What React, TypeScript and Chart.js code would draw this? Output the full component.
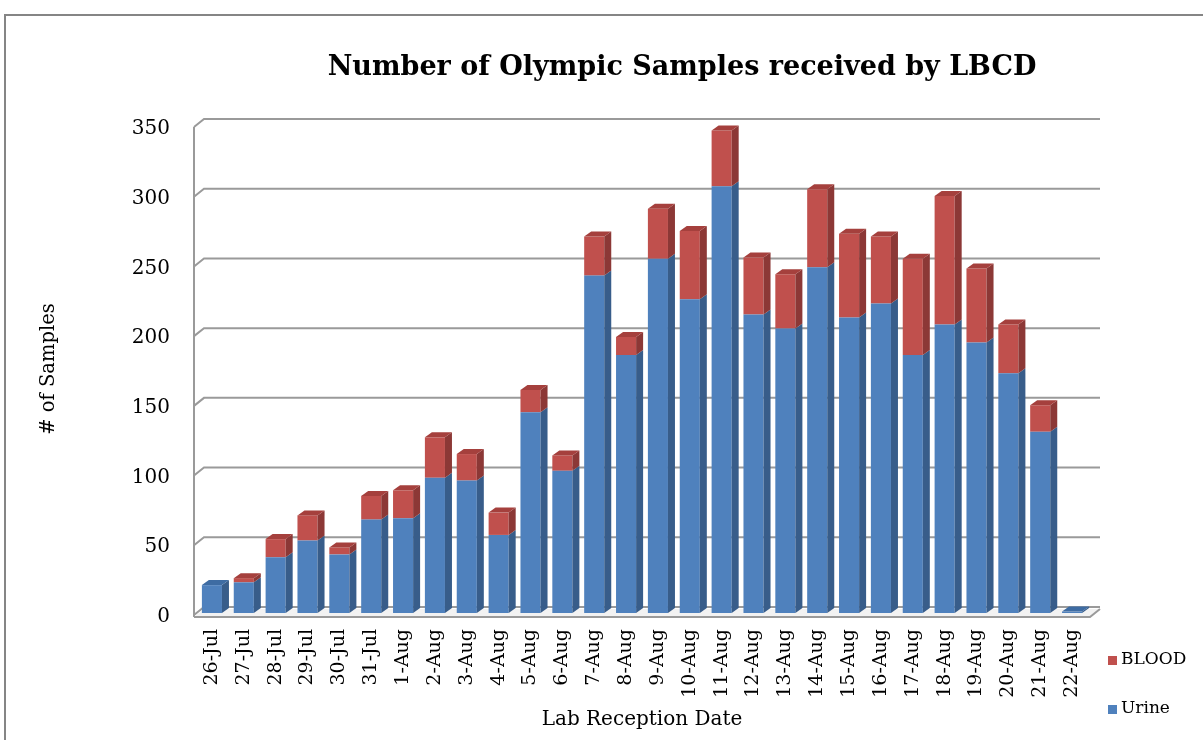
import React, { useEffect, useRef } from "react";
import { Chart, registerables } from "chart.js";

Chart.register(...registerables);

const chartTitle = "Number of Olympic Samples received by LBCD";
const xAxisTitle = "Lab Reception Date";
const yAxisTitle = "# of Samples";

const dates = [
  "26-Jul", "27-Jul", "28-Jul", "29-Jul", "30-Jul", "31-Jul",
  "1-Aug", "2-Aug", "3-Aug", "4-Aug", "5-Aug", "6-Aug", "7-Aug", "8-Aug",
  "9-Aug", "10-Aug", "11-Aug", "12-Aug", "13-Aug", "14-Aug", "15-Aug",
  "16-Aug", "17-Aug", "18-Aug", "19-Aug", "20-Aug", "21-Aug", "22-Aug",
];

const urine = [
  20, 22, 40, 52, 42, 67, 68, 97, 95, 56, 144, 102, 242, 185,
  254, 225, 306, 214, 204, 248, 212, 222, 185, 207, 194, 172, 130, 1,
];

const blood = [
  0, 3, 13, 18, 5, 17, 20, 29, 19, 16, 16, 11, 28, 13,
  36, 49, 40, 41, 39, 56, 60, 48, 69, 92, 53, 35, 19, 0,
];

const yMin = 0;
const yMax = 350;
const yStep = 50;

const FONT = "'DejaVu Serif', serif";

const BLUE = "#4F81BD";
const BLUE_SIDE = "#385D8A";
const BLUE_TOP = "#3E6CA3";
const RED = "#C0504D";
const RED_SIDE = "#8C3836";
const RED_TOP = "#A5403D";

const DX = 7;
const DY = 5;
const WX = 10;
const WY = 6;

const framePlugin = {
  id: "frame",
  beforeDraw(chart: any) {
    const { ctx } = chart;
    ctx.save();
    ctx.strokeStyle = "#858585";
    ctx.lineWidth = 2;
    ctx.beginPath();
    ctx.moveTo(5, 740);
    ctx.lineTo(5, 15);
    ctx.lineTo(1203, 15);
    ctx.stroke();
    ctx.fillStyle = "#000";
    ctx.font = `bold 27px ${FONT}`;
    ctx.textAlign = "center";
    ctx.textBaseline = "middle";
    ctx.fillText(chartTitle, 682, 68);
    ctx.restore();
  },
};

const wallPlugin = {
  id: "walls",
  beforeDatasetsDraw(chart: any) {
    const { ctx, chartArea, scales } = chart;
    const { left, right, top, bottom } = chartArea;
    const y = scales.y;
    ctx.save();
    ctx.strokeStyle = "#9a9a9a";
    ctx.lineWidth = 2;
    // floor slab
    ctx.fillStyle = "#f2f2f2";
    ctx.beginPath();
    ctx.moveTo(left - 2, bottom + 4);
    ctx.lineTo(right + 2, bottom + 4);
    ctx.lineTo(right + 2 + WX, bottom + 4 - WY - 2);
    ctx.lineTo(left - 2 + WX, bottom + 4 - WY - 2);
    ctx.closePath();
    ctx.fill();
    ctx.beginPath();
    ctx.moveTo(left - 2, bottom + 4);
    ctx.lineTo(right + 2, bottom + 4);
    ctx.lineTo(right + 2 + WX, bottom + 4 - WY - 2);
    ctx.stroke();
    // left wall
    ctx.beginPath();
    ctx.moveTo(left - 2, bottom + 4);
    ctx.lineTo(left - 2, top + 2);
    ctx.stroke();
    for (const t of y.ticks) {
      const py = y.getPixelForValue(t.value);
      ctx.beginPath();
      ctx.moveTo(left - 2, py + 2);
      ctx.lineTo(left - 2 + WX, py + 2 - WY - 2);
      ctx.lineTo(right + 2 + WX, py + 2 - WY - 2);
      ctx.stroke();
    }
    ctx.restore();
  },
  afterDatasetsDraw(chart: any) {
    const { ctx } = chart;
    const m0 = chart.getDatasetMeta(0);
    const m1 = chart.getDatasetMeta(1);
    ctx.save();
    const n = m0.data.length;
    for (let i = 0; i < n; i++) {
      const segs = [
        { el: m0.data[i], v: urine[i], side: BLUE_SIDE, topc: BLUE_TOP },
        { el: m1.data[i], v: blood[i], side: RED_SIDE, topc: RED_TOP },
      ];
      let topSeg: any = null;
      for (const s of segs) {
        const { x, y, base, width } = s.el.getProps(["x", "y", "base", "width"], true);
        if (s.v <= 0 && s !== segs[0]) continue;
        const xr = x + width / 2;
        ctx.fillStyle = s.side;
        ctx.beginPath();
        ctx.moveTo(xr, y);
        ctx.lineTo(xr + DX, y - DY);
        ctx.lineTo(xr + DX, base - DY);
        ctx.lineTo(xr, base);
        ctx.closePath();
        ctx.fill();
        topSeg = { x, y, width, c: s.topc };
      }
      if (topSeg) {
        const xl = topSeg.x - topSeg.width / 2;
        const xr = topSeg.x + topSeg.width / 2;
        ctx.fillStyle = topSeg.c;
        ctx.beginPath();
        ctx.moveTo(xl, topSeg.y);
        ctx.lineTo(xl + DX, topSeg.y - DY);
        ctx.lineTo(xr + DX, topSeg.y - DY);
        ctx.lineTo(xr, topSeg.y);
        ctx.closePath();
        ctx.fill();
      }
    }
    ctx.restore();
  },
  afterDraw(chart: any) {
    const { ctx } = chart;
    ctx.save();
    ctx.font = `17px ${FONT}`;
    ctx.textBaseline = "middle";
    ctx.textAlign = "left";
    const items = [
      { label: "BLOOD", c: RED, y: 660 },
      { label: "Urine", c: BLUE, y: 709 },
    ];
    for (const it of items) {
      ctx.fillStyle = it.c;
      ctx.fillRect(1108, it.y - 4, 9, 9);
      ctx.fillStyle = "#000";
      ctx.fillText(it.label, 1121, it.y);
    }
    ctx.restore();
  },
};

export default function App() {
  const ref = useRef<HTMLCanvasElement | null>(null);
  useEffect(() => {
    if (!ref.current) return;
    const chart = new Chart(ref.current, {
      type: "bar",
      data: {
        labels: dates,
        datasets: [
          { label: "Urine", data: urine, backgroundColor: BLUE, stack: "s" },
          { label: "BLOOD", data: blood, backgroundColor: RED, stack: "s" },
        ],
      },
      options: {
        responsive: false,
        animation: false,
        events: [],
        layout: { padding: { left: 29, right: 115, top: 125, bottom: 0 } },
        datasets: { bar: { barPercentage: 0.63, categoryPercentage: 1 } },
        plugins: {
          legend: { display: false },
          title: { display: false },
          tooltip: { enabled: false },
        },
        scales: {
          x: {
            stacked: true,
            grid: { display: false, drawTicks: false },
            border: { display: false },
            ticks: {
              autoSkip: false,
              minRotation: 90,
              maxRotation: 90,
              padding: 16,
              color: "#000",
              font: { family: FONT, size: 19 },
            },
            title: {
              display: true,
              text: xAxisTitle,
              color: "#000",
              font: { family: FONT, size: 20 },
              padding: { top: 0, bottom: 8 },
            },
            afterFit(scale: any) {
              scale.height = 127;
            },
          },
          y: {
            stacked: true,
            min: yMin,
            max: yMax,
            grid: { display: false, drawTicks: false },
            border: { display: false },
            ticks: {
              stepSize: yStep,
              padding: 26,
              labelOffset: 4,
              color: "#000",
              font: { family: FONT, size: 20 },
            },
            title: {
              display: true,
              text: yAxisTitle,
              color: "#000",
              font: { family: FONT, size: 19.5 },
              padding: { top: 8, bottom: 0 },
            },
            afterFit(scale: any) {
              scale.width = 167;
            },
          },
        },
      },
      plugins: [framePlugin, wallPlugin],
    } as any);
    return () => chart.destroy();
  }, []);
  return (
    <div style={{ position: "absolute", left: 0, top: 0, width: 1203, height: 740, background: "#fff" }}>
      <canvas ref={ref} width={1203} height={740} />
    </div>
  );
}
